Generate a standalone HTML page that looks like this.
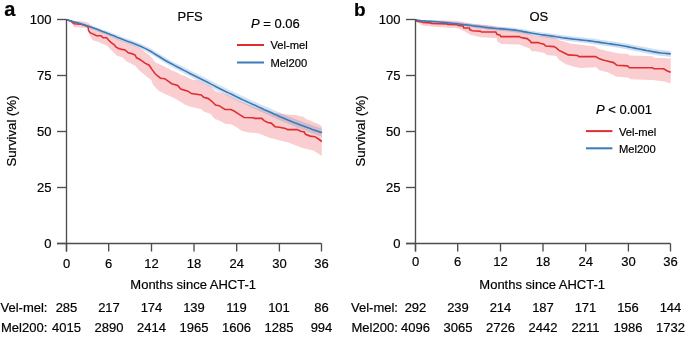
<!DOCTYPE html>
<html><head><meta charset="utf-8"><style>
html,body{margin:0;padding:0;background:#fff;width:685px;height:338px;overflow:hidden}
svg{display:block;will-change:transform}
text{font-family:"Liberation Sans",sans-serif;fill:#000;stroke:#000;stroke-width:0.2px}
</style></head><body>
<svg width="685" height="338" viewBox="0 0 685 338">
<polygon points="66.5,19.7 72.0,20.7 84.0,21.6 88.5,23.0 97.3,30.0 105.0,33.3 118.3,39.3 125.0,42.0 133.3,44.9 139.9,48.3 143.2,50.3 145.0,52.3 149.1,54.8 152.3,58.5 155.4,62.6 159.5,64.2 165.7,67.3 170.9,69.9 176.1,71.9 181.3,75.0 185.0,76.1 191.9,79.6 197.8,80.2 201.4,81.9 210.9,86.5 215.0,91.0 226.8,94.5 238.7,100.4 254.0,107.0 270.0,112.3 285.4,114.2 290.0,114.8 297.1,115.2 298.9,116.1 304.2,117.0 305.5,118.8 310.4,120.5 314.9,122.8 318.4,124.1 321.8,126.3 321.8,155.9 313.3,150.6 302.6,148.0 288.4,142.6 277.8,140.0 275.0,139.1 270.0,137.9 264.1,135.5 258.2,133.2 248.7,132.6 241.6,130.8 235.7,126.7 230.9,124.3 225.0,123.7 220.3,121.1 214.4,118.7 210.8,114.0 203.7,111.6 201.3,109.2 190.7,106.8 184.7,104.5 180.0,101.5 173.7,97.8 165.4,94.2 162.0,92.4 159.0,90.9 153.1,85.0 151.6,80.6 144.2,74.6 138.3,69.4 135.3,65.7 126.4,61.3 122.0,57.0 117.1,55.9 114.0,52.8 110.9,49.7 106.7,45.5 101.5,43.5 97.4,41.4 93.3,40.4 91.2,38.3 88.6,33.0 88.0,28.0 74.0,27.3 72.0,23.3 66.5,19.7" fill="#facdd0"/>
<polygon points="66.5,19.7 69.5,19.7 72.5,20.3 75.5,21.0 78.5,21.8 81.5,22.6 84.5,23.4 87.5,24.4 90.5,25.3 93.5,26.3 96.5,27.2 99.5,28.3 102.5,29.4 105.5,30.5 108.5,31.6 111.5,32.7 114.5,33.9 117.5,35.1 120.5,36.3 123.5,37.4 126.5,38.5 129.5,39.6 132.5,40.6 135.5,41.7 138.5,42.8 141.5,44.1 144.5,45.5 147.5,47.0 150.5,48.6 153.5,50.3 156.5,52.2 159.5,54.0 162.5,55.8 165.5,57.6 168.5,59.3 171.5,60.9 174.5,62.5 177.5,64.0 180.5,65.5 183.5,67.0 186.5,68.6 189.5,70.1 192.5,71.6 195.5,73.1 198.5,74.6 201.5,76.0 204.5,77.6 207.5,79.1 210.5,80.6 213.5,82.1 216.5,83.6 219.5,85.1 222.5,86.6 225.5,88.1 228.5,89.5 231.5,90.9 234.5,92.3 237.5,93.8 240.5,95.2 243.5,96.6 246.5,98.0 249.5,99.4 252.5,100.7 255.5,102.0 258.5,103.4 261.5,104.7 264.5,106.0 267.5,107.3 270.5,108.6 273.5,110.0 276.5,111.3 279.5,112.6 282.5,113.9 285.5,115.2 288.5,116.5 291.5,117.7 294.5,118.8 297.5,119.9 300.5,121.0 303.5,122.2 306.5,123.2 309.5,124.3 312.5,125.4 315.5,126.4 318.5,127.5 321.5,128.5 321.8,129.0 321.8,137.0 321.5,136.5 318.5,135.4 315.5,134.3 312.5,133.3 309.5,132.2 306.5,131.1 303.5,130.0 300.5,128.8 297.5,127.7 294.5,126.5 291.5,125.3 288.5,124.1 285.5,122.8 282.5,121.4 279.5,120.1 276.5,118.8 273.5,117.4 270.5,116.0 267.5,114.6 264.5,113.3 261.5,112.0 258.5,110.6 255.5,109.2 252.5,107.9 249.5,106.5 246.5,105.1 243.5,103.6 240.5,102.2 237.5,100.7 234.5,99.2 231.5,97.8 228.5,96.3 225.5,94.8 222.5,93.4 219.5,91.8 216.5,90.3 213.5,88.7 210.5,87.1 207.5,85.6 204.5,84.0 201.5,82.5 198.5,80.9 195.5,79.4 192.5,77.8 189.5,76.3 186.5,74.7 183.5,73.1 180.5,71.6 177.5,70.0 174.5,68.4 171.5,66.8 168.5,65.1 165.5,63.3 162.5,61.5 159.5,59.6 156.5,57.7 153.5,55.8 150.5,54.0 147.5,52.3 144.5,50.8 141.5,49.3 138.5,48.0 135.5,46.8 132.5,45.6 129.5,44.5 126.5,43.3 123.5,42.1 120.5,40.9 117.5,39.7 114.5,38.4 111.5,37.1 108.5,35.8 105.5,34.6 102.5,33.4 99.5,32.2 96.5,31.0 93.5,29.9 90.5,28.8 87.5,27.7 84.5,26.6 81.5,25.5 78.5,24.5 75.5,23.5 72.5,22.4 69.5,21.4 66.5,19.7" fill="#3b7aba" fill-opacity="0.22"/>
<polyline points="66.5,19.7 71.3,21.3 74.0,23.7 81.3,24.3 85.3,25.6 88.0,26.7 88.6,30.5 90.1,32.6 93.3,34.1 96.4,35.7 101.0,35.7 103.1,37.8 106.7,37.8 108.3,39.8 110.9,42.4 114.0,44.5 116.1,47.1 119.2,48.7 122.0,49.4 125.0,49.9 128.3,52.8 131.6,53.6 134.9,54.9 136.6,57.8 139.1,59.0 141.6,60.7 145.0,63.1 149.1,65.2 152.3,69.9 155.4,74.0 160.5,78.2 164.7,78.7 171.8,83.7 177.7,85.5 180.7,89.0 187.9,91.2 191.4,93.6 201.3,95.0 203.7,97.4 208.4,98.6 212.0,101.5 215.5,105.1 219.1,105.7 225.0,109.5 230.9,109.5 234.5,111.3 238.0,113.6 242.8,116.6 244.0,117.5 253.4,117.8 254.6,118.4 261.7,118.4 264.1,120.7 267.7,122.5 271.2,123.1 275.0,126.7 279.5,127.2 285.4,128.4 287.7,129.6 297.2,129.6 300.8,131.3 304.3,131.9 305.5,134.3 310.2,136.1 314.9,136.7 318.5,139.0 321.8,141.5" fill="none" stroke="#df2e30" stroke-width="1.6"/>
<polyline points="66.5,19.7 69.5,20.5 72.5,21.4 75.5,22.3 78.5,23.1 81.5,24.1 84.5,25.0 87.5,26.0 90.5,27.1 93.5,28.1 96.5,29.1 99.5,30.2 102.5,31.4 105.5,32.5 108.5,33.7 111.5,34.9 114.5,36.1 117.5,37.4 120.5,38.6 123.5,39.8 126.5,40.9 129.5,42.0 132.5,43.1 135.5,44.2 138.5,45.4 141.5,46.7 144.5,48.1 147.5,49.6 150.5,51.3 153.5,53.1 156.5,55.0 159.5,56.8 162.5,58.7 165.5,60.5 168.5,62.2 171.5,63.8 174.5,65.4 177.5,67.0 180.5,68.5 183.5,70.1 186.5,71.6 189.5,73.2 192.5,74.7 195.5,76.2 198.5,77.7 201.5,79.2 204.5,80.8 207.5,82.3 210.5,83.9 213.5,85.4 216.5,87.0 219.5,88.5 222.5,90.0 225.5,91.5 228.5,92.9 231.5,94.3 234.5,95.8 237.5,97.2 240.5,98.7 243.5,100.1 246.5,101.5 249.5,102.9 252.5,104.3 255.5,105.6 258.5,107.0 261.5,108.3 264.5,109.7 267.5,111.0 270.5,112.3 273.5,113.7 276.5,115.1 279.5,116.4 282.5,117.7 285.5,119.0 288.5,120.3 291.5,121.5 294.5,122.7 297.5,123.8 300.5,124.9 303.5,126.1 306.5,127.2 309.5,128.3 312.5,129.4 315.5,130.4 318.5,131.4 321.5,132.5 321.8,133.0" fill="none" stroke="#3b7aba" stroke-width="1.6"/>
<polygon points="415.5,19.6 422.2,20.2 447.2,20.6 458.0,20.9 469.4,23.2 480.0,24.6 490.0,25.3 495.0,26.6 515.0,29.0 535.0,35.9 552.8,37.1 558.7,40.1 570.5,43.6 580.0,44.8 595.0,46.6 597.6,48.6 608.2,51.3 617.6,53.3 628.1,54.0 629.6,55.5 652.5,56.3 654.0,57.7 670.7,58.5 670.7,83.6 664.4,81.4 652.5,79.9 630.3,79.2 628.9,77.7 616.2,76.6 608.2,72.6 598.9,69.9 596.3,67.2 580.0,67.9 574.1,66.7 565.8,64.3 558.7,59.6 556.3,56.1 546.8,54.9 544.5,53.1 535.0,51.3 531.2,51.2 530.2,48.7 521.2,45.2 519.2,44.6 501.0,44.0 500.0,43.0 497.4,41.8 496.6,38.0 480.6,37.2 470.2,34.8 463.8,30.8 458.2,28.4 455.0,28.1 447.8,27.8 432.0,26.5 422.9,25.8 417.0,22.2 415.5,19.6" fill="#facdd0"/>
<polygon points="415.5,19.6 418.5,19.7 421.5,19.9 424.5,20.0 427.5,20.2 430.5,20.3 433.5,20.4 436.5,20.6 439.5,20.7 442.5,20.9 445.5,21.1 448.5,21.4 451.5,21.7 454.5,21.9 457.5,22.2 460.5,22.6 463.5,22.9 466.5,23.2 469.5,23.5 472.5,23.9 475.5,24.3 478.5,24.6 481.5,25.0 484.5,25.3 487.5,25.6 490.5,25.9 493.5,26.2 496.5,26.5 499.5,26.7 502.5,26.9 505.5,27.1 508.5,27.4 511.5,27.6 514.5,28.0 517.5,28.4 520.5,28.8 523.5,29.3 526.5,29.9 529.5,30.4 532.5,31.0 535.5,31.5 538.5,32.0 541.5,32.4 544.5,32.8 547.5,33.1 550.5,33.5 553.5,33.9 556.5,34.3 559.5,34.8 562.5,35.2 565.5,35.6 568.5,36.0 571.5,36.3 574.5,36.7 577.5,37.0 580.5,37.3 583.5,37.6 586.5,37.9 589.5,38.3 592.5,38.6 595.5,39.0 598.5,39.5 601.5,39.9 604.5,40.3 607.5,40.8 610.5,41.2 613.5,41.6 616.5,42.1 619.5,42.5 622.5,43.0 625.5,43.5 628.5,44.1 631.5,44.6 634.5,45.2 637.5,45.8 640.5,46.4 643.5,47.0 646.5,47.6 649.5,48.1 652.5,48.7 655.5,49.2 658.5,49.6 661.5,50.0 664.5,50.3 667.5,50.7 670.5,50.9 670.7,51.0 670.7,57.0 670.5,56.9 667.5,56.6 664.5,56.3 661.5,55.9 658.5,55.5 655.5,55.0 652.5,54.5 649.5,53.9 646.5,53.3 643.5,52.7 640.5,52.1 637.5,51.5 634.5,50.9 631.5,50.3 628.5,49.7 625.5,49.1 622.5,48.6 619.5,48.1 616.5,47.6 613.5,47.1 610.5,46.6 607.5,46.2 604.5,45.7 601.5,45.3 598.5,44.8 595.5,44.4 592.5,43.9 589.5,43.5 586.5,43.1 583.5,42.8 580.5,42.4 577.5,42.1 574.5,41.8 571.5,41.4 568.5,41.0 565.5,40.6 562.5,40.1 559.5,39.7 556.5,39.2 553.5,38.7 550.5,38.3 547.5,37.9 544.5,37.5 541.5,37.1 538.5,36.6 535.5,36.1 532.5,35.5 529.5,35.0 526.5,34.4 523.5,33.8 520.5,33.2 517.5,32.7 514.5,32.3 511.5,31.9 508.5,31.6 505.5,31.3 502.5,31.0 499.5,30.7 496.5,30.5 493.5,30.2 490.5,29.9 487.5,29.5 484.5,29.1 481.5,28.7 478.5,28.3 475.5,27.9 472.5,27.4 469.5,27.0 466.5,26.6 463.5,26.2 460.5,25.8 457.5,25.4 454.5,25.0 451.5,24.7 448.5,24.3 445.5,24.0 442.5,23.7 439.5,23.4 436.5,23.1 433.5,22.8 430.5,22.5 427.5,22.3 424.5,21.9 421.5,21.5 418.5,21.0 415.5,19.6" fill="#3b7aba" fill-opacity="0.25"/>
<polyline points="415.5,19.6 417.0,21.2 422.2,21.9 422.9,22.5 430.7,22.9 431.4,23.5 447.2,23.9 447.8,24.5 457.4,24.8 458.2,25.6 463.0,26.0 463.8,28.0 469.4,28.0 469.8,29.6 472.2,30.8 480.6,31.2 481.4,32.0 495.8,32.0 497.0,34.4 500.0,35.1 501.0,36.6 519.2,36.6 521.2,37.6 524.2,38.1 527.2,38.6 530.2,41.1 531.2,42.6 538.3,42.6 540.0,43.3 543.9,44.2 545.7,46.0 553.9,46.6 556.3,47.8 558.7,50.1 563.4,52.5 568.2,54.9 577.6,55.5 579.0,56.6 595.6,56.6 599.0,58.6 602.9,59.9 608.2,61.3 613.6,62.6 616.9,65.3 627.4,65.9 629.6,67.8 652.5,67.8 654.0,68.8 663.6,68.8 667.3,71.0 670.7,72.2" fill="none" stroke="#df2e30" stroke-width="1.6"/>
<polyline points="415.5,19.6 418.5,20.4 421.5,20.7 424.5,20.9 427.5,21.2 430.5,21.4 433.5,21.6 436.5,21.8 439.5,22.0 442.5,22.3 445.5,22.6 448.5,22.9 451.5,23.2 454.5,23.5 457.5,23.8 460.5,24.2 463.5,24.6 466.5,24.9 469.5,25.3 472.5,25.7 475.5,26.1 478.5,26.4 481.5,26.8 484.5,27.2 487.5,27.6 490.5,27.9 493.5,28.2 496.5,28.5 499.5,28.7 502.5,28.9 505.5,29.2 508.5,29.5 511.5,29.8 514.5,30.1 517.5,30.5 520.5,31.0 523.5,31.6 526.5,32.1 529.5,32.7 532.5,33.3 535.5,33.8 538.5,34.3 541.5,34.7 544.5,35.1 547.5,35.5 550.5,35.9 553.5,36.3 556.5,36.8 559.5,37.2 562.5,37.7 565.5,38.1 568.5,38.5 571.5,38.9 574.5,39.2 577.5,39.5 580.5,39.9 583.5,40.2 586.5,40.5 589.5,40.9 592.5,41.3 595.5,41.7 598.5,42.1 601.5,42.6 604.5,43.0 607.5,43.5 610.5,43.9 613.5,44.4 616.5,44.8 619.5,45.3 622.5,45.8 625.5,46.3 628.5,46.9 631.5,47.5 634.5,48.1 637.5,48.7 640.5,49.3 643.5,49.9 646.5,50.5 649.5,51.0 652.5,51.6 655.5,52.1 658.5,52.6 661.5,53.0 664.5,53.3 667.5,53.6 670.5,53.9 670.7,54.0" fill="none" stroke="#3b7aba" stroke-width="1.6"/>
<path d="M66.5 19.5V251.5M57.0 243.5H321.5" fill="none" stroke="#4d4d4d" stroke-width="1.35"/>
<line x1="57.0" y1="19.50" x2="66.5" y2="19.50" stroke="#4d4d4d" stroke-width="1.35"/>
<text x="51.5" y="24.40" text-anchor="end" font-size="13">100</text>
<line x1="57.0" y1="75.50" x2="66.5" y2="75.50" stroke="#4d4d4d" stroke-width="1.35"/>
<text x="51.5" y="80.40" text-anchor="end" font-size="13">75</text>
<line x1="57.0" y1="131.50" x2="66.5" y2="131.50" stroke="#4d4d4d" stroke-width="1.35"/>
<text x="51.5" y="136.40" text-anchor="end" font-size="13">50</text>
<line x1="57.0" y1="187.50" x2="66.5" y2="187.50" stroke="#4d4d4d" stroke-width="1.35"/>
<text x="51.5" y="192.40" text-anchor="end" font-size="13">25</text>
<line x1="57.0" y1="243.50" x2="66.5" y2="243.50" stroke="#4d4d4d" stroke-width="1.35"/>
<text x="51.5" y="248.40" text-anchor="end" font-size="13">0</text>
<line x1="66.50" y1="243.5" x2="66.50" y2="251.5" stroke="#4d4d4d" stroke-width="1.35"/>
<text x="66.50" y="268" text-anchor="middle" font-size="13">0</text>
<line x1="108.70" y1="243.5" x2="108.70" y2="251.5" stroke="#4d4d4d" stroke-width="1.35"/>
<text x="108.70" y="268" text-anchor="middle" font-size="13">6</text>
<line x1="151.50" y1="243.5" x2="151.50" y2="251.5" stroke="#4d4d4d" stroke-width="1.35"/>
<text x="151.50" y="268" text-anchor="middle" font-size="13">12</text>
<line x1="194.00" y1="243.5" x2="194.00" y2="251.5" stroke="#4d4d4d" stroke-width="1.35"/>
<text x="194.00" y="268" text-anchor="middle" font-size="13">18</text>
<line x1="236.70" y1="243.5" x2="236.70" y2="251.5" stroke="#4d4d4d" stroke-width="1.35"/>
<text x="236.70" y="268" text-anchor="middle" font-size="13">24</text>
<line x1="279.40" y1="243.5" x2="279.40" y2="251.5" stroke="#4d4d4d" stroke-width="1.35"/>
<text x="279.40" y="268" text-anchor="middle" font-size="13">30</text>
<line x1="321.50" y1="243.5" x2="321.50" y2="251.5" stroke="#4d4d4d" stroke-width="1.35"/>
<text x="321.50" y="268" text-anchor="middle" font-size="13">36</text>
<text x="193.2" y="289" text-anchor="middle" font-size="13">Months since AHCT-1</text>
<text transform="translate(16.0,131) rotate(-90)" text-anchor="middle" font-size="13.2">Survival (%)</text>
<path d="M415.5 19.5V251.5M406.0 243.5H670.5" fill="none" stroke="#4d4d4d" stroke-width="1.35"/>
<line x1="406.0" y1="19.50" x2="415.5" y2="19.50" stroke="#4d4d4d" stroke-width="1.35"/>
<text x="400.5" y="24.40" text-anchor="end" font-size="13">100</text>
<line x1="406.0" y1="75.50" x2="415.5" y2="75.50" stroke="#4d4d4d" stroke-width="1.35"/>
<text x="400.5" y="80.40" text-anchor="end" font-size="13">75</text>
<line x1="406.0" y1="131.50" x2="415.5" y2="131.50" stroke="#4d4d4d" stroke-width="1.35"/>
<text x="400.5" y="136.40" text-anchor="end" font-size="13">50</text>
<line x1="406.0" y1="187.50" x2="415.5" y2="187.50" stroke="#4d4d4d" stroke-width="1.35"/>
<text x="400.5" y="192.40" text-anchor="end" font-size="13">25</text>
<line x1="406.0" y1="243.50" x2="415.5" y2="243.50" stroke="#4d4d4d" stroke-width="1.35"/>
<text x="400.5" y="248.40" text-anchor="end" font-size="13">0</text>
<line x1="415.50" y1="243.5" x2="415.50" y2="251.5" stroke="#4d4d4d" stroke-width="1.35"/>
<text x="415.50" y="266" text-anchor="middle" font-size="13">0</text>
<line x1="457.70" y1="243.5" x2="457.70" y2="251.5" stroke="#4d4d4d" stroke-width="1.35"/>
<text x="457.70" y="266" text-anchor="middle" font-size="13">6</text>
<line x1="500.50" y1="243.5" x2="500.50" y2="251.5" stroke="#4d4d4d" stroke-width="1.35"/>
<text x="500.50" y="266" text-anchor="middle" font-size="13">12</text>
<line x1="543.00" y1="243.5" x2="543.00" y2="251.5" stroke="#4d4d4d" stroke-width="1.35"/>
<text x="543.00" y="266" text-anchor="middle" font-size="13">18</text>
<line x1="585.70" y1="243.5" x2="585.70" y2="251.5" stroke="#4d4d4d" stroke-width="1.35"/>
<text x="585.70" y="266" text-anchor="middle" font-size="13">24</text>
<line x1="628.40" y1="243.5" x2="628.40" y2="251.5" stroke="#4d4d4d" stroke-width="1.35"/>
<text x="628.40" y="266" text-anchor="middle" font-size="13">30</text>
<line x1="670.50" y1="243.5" x2="670.50" y2="251.5" stroke="#4d4d4d" stroke-width="1.35"/>
<text x="670.50" y="266" text-anchor="middle" font-size="13">36</text>
<text x="542.2" y="289" text-anchor="middle" font-size="13">Months since AHCT-1</text>
<text transform="translate(365.0,131) rotate(-90)" text-anchor="middle" font-size="13.2">Survival (%)</text>
<text x="66.50" y="312" text-anchor="middle" font-size="13">285</text>
<text x="66.50" y="331.5" text-anchor="middle" font-size="13">4015</text>
<text x="109.00" y="312" text-anchor="middle" font-size="13">217</text>
<text x="109.00" y="331.5" text-anchor="middle" font-size="13">2890</text>
<text x="151.50" y="312" text-anchor="middle" font-size="13">174</text>
<text x="151.50" y="331.5" text-anchor="middle" font-size="13">2414</text>
<text x="194.00" y="312" text-anchor="middle" font-size="13">139</text>
<text x="194.00" y="331.5" text-anchor="middle" font-size="13">1965</text>
<text x="236.50" y="312" text-anchor="middle" font-size="13">119</text>
<text x="236.50" y="331.5" text-anchor="middle" font-size="13">1606</text>
<text x="279.00" y="312" text-anchor="middle" font-size="13">101</text>
<text x="279.00" y="331.5" text-anchor="middle" font-size="13">1285</text>
<text x="321.50" y="312" text-anchor="middle" font-size="13">86</text>
<text x="321.50" y="331.5" text-anchor="middle" font-size="13">994</text>
<text x="415.50" y="312" text-anchor="middle" font-size="13">292</text>
<text x="415.50" y="331.5" text-anchor="middle" font-size="13">4096</text>
<text x="458.00" y="312" text-anchor="middle" font-size="13">239</text>
<text x="458.00" y="331.5" text-anchor="middle" font-size="13">3065</text>
<text x="500.50" y="312" text-anchor="middle" font-size="13">214</text>
<text x="500.50" y="331.5" text-anchor="middle" font-size="13">2726</text>
<text x="543.00" y="312" text-anchor="middle" font-size="13">187</text>
<text x="543.00" y="331.5" text-anchor="middle" font-size="13">2442</text>
<text x="585.50" y="312" text-anchor="middle" font-size="13">171</text>
<text x="585.50" y="331.5" text-anchor="middle" font-size="13">2211</text>
<text x="628.00" y="312" text-anchor="middle" font-size="13">156</text>
<text x="628.00" y="331.5" text-anchor="middle" font-size="13">1986</text>
<text x="670.50" y="312" text-anchor="middle" font-size="13">144</text>
<text x="670.50" y="331.5" text-anchor="middle" font-size="13">1732</text>
<text x="0.5" y="312" font-size="13">Vel-mel:</text>
<text x="1" y="331.5" font-size="13">Mel200:</text>
<text x="351" y="312" font-size="13">Vel-mel:</text>
<text x="351.5" y="331.5" font-size="13">Mel200:</text>
<text x="4.3" y="16.4" font-size="20" font-weight="bold">a</text>
<text x="354" y="16.3" font-size="19" font-weight="bold">b</text>
<text x="177.5" y="21.4" font-size="13">PFS</text>
<text x="529.5" y="21.4" font-size="13">OS</text>
<text x="251" y="28.1" font-size="13"><tspan font-style="italic">P</tspan> = 0.06</text>
<text x="596" y="113.7" font-size="13"><tspan font-style="italic">P</tspan> &lt; 0.001</text>
<line x1="237" y1="45" x2="264" y2="45" stroke="#df2e30" stroke-width="2"/>
<line x1="237" y1="62.5" x2="264" y2="62.5" stroke="#3b7aba" stroke-width="2"/>
<text x="270.5" y="49.4" font-size="11.2">Vel-mel</text>
<text x="270.5" y="67.4" font-size="11.2">Mel200</text>
<line x1="586" y1="131.1" x2="612.4" y2="131.1" stroke="#df2e30" stroke-width="2"/>
<line x1="586" y1="148.3" x2="612.4" y2="148.3" stroke="#3b7aba" stroke-width="2"/>
<text x="619" y="136" font-size="11.2">Vel-mel</text>
<text x="619" y="152.5" font-size="11.2">Mel200</text>
</svg>
</body></html>
